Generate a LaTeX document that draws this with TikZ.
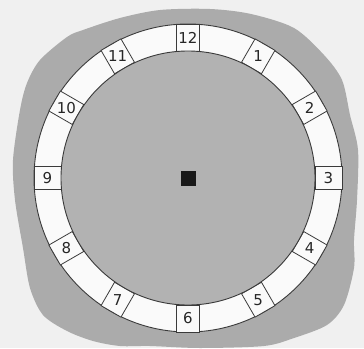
\documentclass[tikz,border=0pt]{standalone}
\usepackage{fontspec}
\setmainfont{DejaVu Sans}
\definecolor{bgcol}{HTML}{F0F0F0}
\definecolor{blobcol}{HTML}{ABABAB}
\definecolor{diskcol}{HTML}{B2B2B2}
\definecolor{ringcol}{HTML}{FAFAFA}
\definecolor{linecol}{HTML}{3A3A3A}
\begin{document}
\begin{tikzpicture}[x=1pt,y=-1pt,
  numbox/.style={draw=linecol, line width=0.8pt, fill=ringcol, minimum width=23pt, minimum height=27pt, inner sep=0pt},
  numtxt/.style={font=\fontsize{15}{15}\selectfont, text=black!85, inner sep=0pt}]
\fill[bgcol] (0,0) rectangle (364,348);
\useasboundingbox (0,0) rectangle (364,348);
\fill[blobcol] plot[smooth cycle, tension=0.5] coordinates {
 (120,18) (160,10) (210,9) (251,14) (294,28) (324,55) (342,80) (350,115)
 (358,150) (357,200) (354,240) (354,268) (344,305) (327,325) (294,338)
 (264,346) (200,348) (150,346) (120,346) (93,341) (67,331) (43,315)
 (30,288) (23,248) (15,200) (13,160) (20,110) (27,83) (40,60) (67,37) (83,30)};
\coordinate (c) at (188,178);
\node[circle, draw=linecol, line width=0.9pt, fill=ringcol, minimum size=308pt, inner sep=0pt] (outer) at (c) {};
\foreach \h in {1,...,12} {
  \pgfmathsetmacro\bx{188+140.5*sin(30*\h)}
  \pgfmathsetmacro\by{178-140.5*cos(30*\h)}
  \pgfmathsetmacro\rot{-30*\h}
  \node[numbox, rotate=\rot] (b\h) at (\bx,\by) {};
}
\node[circle, draw=linecol, line width=0.9pt, fill=diskcol, minimum size=254pt, inner sep=0pt] (inner) at (c) {};
\foreach \h in {1,...,12} {
  \node[numtxt] (t\h) at (b\h.center) {\h};
}
\node[fill=black!90, minimum size=15pt, inner sep=0pt] (hub) at (c) {};
\end{tikzpicture}
\end{document}
